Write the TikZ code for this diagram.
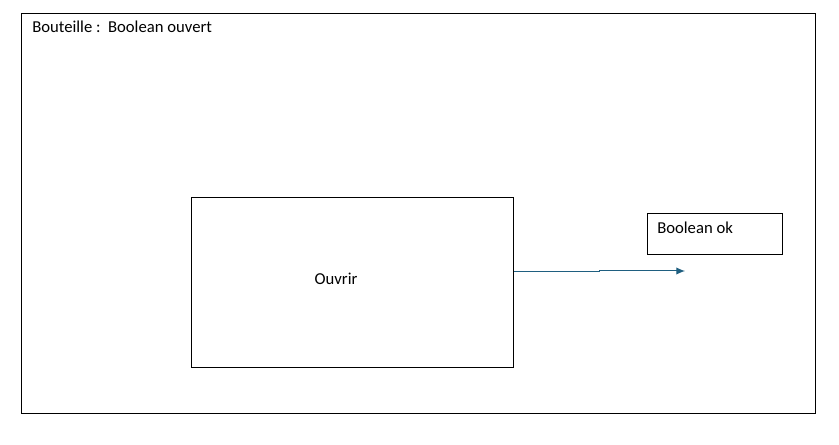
\documentclass[tikz,border=0pt]{standalone}
\usepackage{fontspec}
\setmainfont{Carlito}
\usetikzlibrary{positioning,arrows.meta}
\definecolor{flowblue}{HTML}{1F5F80}

\begin{document}
\begin{tikzpicture}[x=0.75pt,y=-0.75pt,
  box/.style={rectangle,draw,line width=0.8pt,anchor=north west,inner sep=0pt},
  lbl/.style={font=\fontsize{12.5}{15}\selectfont,inner sep=0pt},
  flow/.style={draw=flowblue,line width=0.75pt,-{Latex[length=6.5pt,width=5.5pt]}}]
\useasboundingbox (0,0) rectangle (839,445);

% Frames
\node[box,minimum width=794*0.75pt,minimum height=400*0.75pt] (bouteille) at (21,13) {};
\node[box,minimum width=322*0.75pt,minimum height=170*0.75pt] (ouvrir) at (191,197) {};
\node[box,minimum width=135*0.75pt,minimum height=41*0.75pt] (ok) at (647,213) {};

% Labels
\node[lbl,anchor=west] (bouteilleLbl) at (32,27) {Bouteille :\ \ Boolean ouvert};
\node[lbl] (ouvrirLbl) at (336,279) {Ouvrir};
\node[lbl,anchor=west] (okLbl) at (657,228) {Boolean ok};

% Connection
\coordinate (tip) at (685,271);
\draw[flow] (ouvrir.east |- 0,272) -- ++(85,0) -- ++(0,-1) -- (tip);
\end{tikzpicture}
\end{document}
